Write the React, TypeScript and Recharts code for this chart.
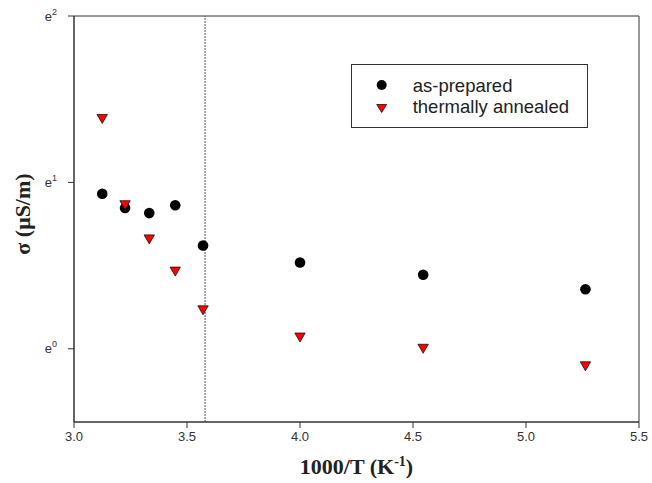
import React from "react";
import { ScatterChart, Scatter, XAxis, YAxis, ReferenceLine, ReferenceArea, Legend, Label } from "recharts";

// 1000/T (K^-1) of each measurement
const invT = [3.125, 3.226, 3.333, 3.448, 3.571, 4.0, 4.545, 5.263];
// sigma (uS/m)
const asPrepared = [2.54, 2.33, 2.26, 2.37, 1.86, 1.68, 1.56, 1.43];
const annealed = [3.98, 2.37, 1.93, 1.59, 1.26, 1.07, 1.0, 0.9];
const seriesNames = ["as-prepared", "thermally annealed"];
const xTicks = [3.0, 3.5, 4.0, 4.5, 5.0, 5.5];
const yTickPowers = [0, 1, 2];
const yRange = [Math.exp(-0.44), Math.exp(2)];
const dividerX = 3.58;

const SANS = "'Liberation Sans', Arial, sans-serif";
const SERIF = "'Liberation Serif', 'Times New Roman', serif";
const AXIS = "#333";

const prepData = invT.map((x, i) => ({ x, y: asPrepared[i] }));
const annData = invT.map((x, i) => ({ x, y: annealed[i] }));

const Dot = (p: any) => <circle cx={p.cx} cy={p.cy} r={5.3} fill="#000" />;
const Tri = (p: any) => (
  <polygon
    points={`${p.cx - 5.2},${p.cy - 4.5} ${p.cx + 5.2},${p.cy - 4.5} ${p.cx},${p.cy + 4.5}`}
    fill="#ff0000"
    stroke="#111"
    strokeWidth={0.8}
  />
);

const YTick = (props: any) => {
  const { x, y, payload } = props;
  const p = Math.round(Math.log(payload.value));
  return (
    <text x={x} y={y} dy={4.5} textAnchor="end" fontSize={13} fill={AXIS} fontFamily={SANS}>
      e<tspan dy={-6} fontSize={9}>{p}</tspan>
    </text>
  );
};

const XTitle = (props: any) => {
  const vb = props.viewBox || { x: 74, y: 422, width: 565, height: 61 };
  return (
    <text x={vb.x + vb.width / 2} y={vb.y + 52} textAnchor="middle" fontFamily={SERIF} fontWeight="bold" fontSize={22} fill="#222">
      1000/T (K<tspan dy={-8} fontSize={14}>-1</tspan><tspan dy={8}>)</tspan>
    </text>
  );
};

const YTitle = (props: any) => {
  const vb = props.viewBox || { x: 0, y: 16, width: 74, height: 406 };
  const cx = vb.x + 29.5;
  const cy = vb.y + vb.height / 2 - 5;
  return (
    <text x={cx} y={cy} transform={`rotate(-90, ${cx}, ${cy})`} textAnchor="middle" fontFamily={SERIF} fontWeight="bold" fontSize={22} fill="#222">
      σ (μS/m)
    </text>
  );
};

const LegendBox = () => (
  <svg width={237} height={65} style={{ display: "block" }}>
    <rect x={0.5} y={0.5} width={236} height={63} fill="#fff" stroke={AXIS} />
    <circle cx={30.7} cy={21} r={5} fill="#000" />
    <polygon points="25.7,40.5 35.7,40.5 30.7,48.5" fill="#ff0000" stroke="#111" strokeWidth={0.8} />
    <text x={61.7} y={27.7} fontFamily={SANS} fontSize={18.5} fill="#222">{seriesNames[0]}</text>
    <text x={61.7} y={49.3} fontFamily={SANS} fontSize={18.5} fill="#222">{seriesNames[1]}</text>
  </svg>
);

export default function App() {
  return (
    <div style={{ position: "absolute", left: 0, top: 0, background: "#fff" }}>
      <ScatterChart width={652} height={483} margin={{ top: 16, right: 13, bottom: 0, left: 0 }}>
        <ReferenceArea x1={3} x2={5.5} y1={yRange[0]} y2={yRange[1]} fill="none" stroke={AXIS} strokeWidth={1} />
        <XAxis
          type="number"
          dataKey="x"
          domain={[3, 5.5]}
          ticks={xTicks}
          allowDataOverflow
          tickFormatter={(v: number) => v.toFixed(1)}
          height={61}
          tickSize={6}
          tickMargin={4}
          stroke={AXIS}
          tick={{ fontSize: 13, fill: AXIS, fontFamily: SANS }}
        >
          <Label content={XTitle} />
        </XAxis>
        <YAxis
          type="number"
          dataKey="y"
          scale="log"
          domain={yRange}
          ticks={yTickPowers.map((p) => Math.exp(p))}
          allowDataOverflow
          width={74}
          tickSize={6}
          tickMargin={11}
          stroke={AXIS}
          tick={<YTick />}
        >
          <Label content={YTitle} />
        </YAxis>
        <ReferenceLine x={dividerX} stroke="#555" strokeDasharray="2 1" strokeWidth={1} />
        <Legend
          layout="vertical"
          align="center"
          verticalAlign="middle"
          wrapperStyle={{ left: 351, top: 64, width: 237, height: 65 }}
          content={LegendBox}
        />
        <Scatter name={seriesNames[0]} data={prepData} shape={Dot} isAnimationActive={false} />
        <Scatter name={seriesNames[1]} data={annData} shape={Tri} isAnimationActive={false} />
      </ScatterChart>
    </div>
  );
}
